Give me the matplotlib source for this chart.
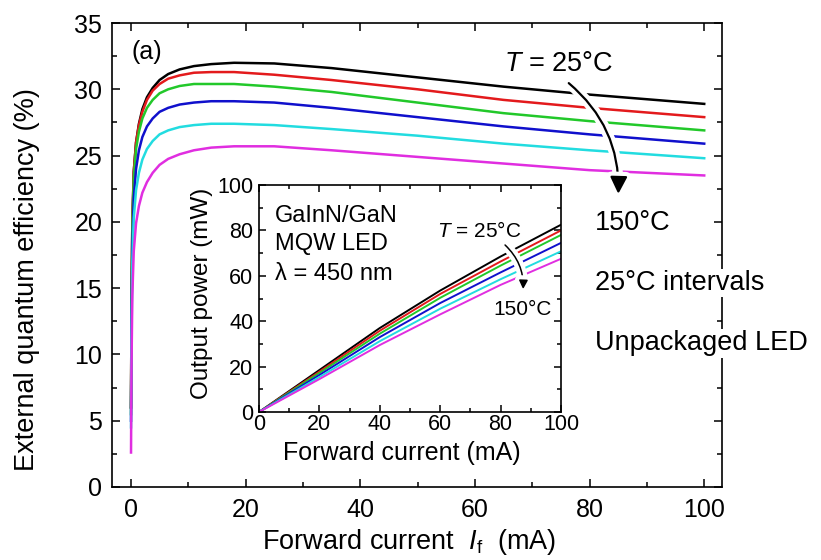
import matplotlib
matplotlib.use("Agg")
import matplotlib.pyplot as plt
from matplotlib.patches import FancyArrowPatch
import matplotlib.patheffects as pe

plt.rcParams["font.family"] = ["Liberation Sans", "DejaVu Sans"]
plt.rcParams["mathtext.fontset"] = "custom"
plt.rcParams["mathtext.rm"] = "Liberation Sans"
plt.rcParams["mathtext.it"] = "Liberation Sans:italic"

# --- data ---
temps = ["25", "50", "75", "100", "125", "150"]
colors = ["#000000", "#e31a1c", "#22c82a", "#1010cc", "#22dce0", "#e02ee0"]

current = [0.02, 0.1, 0.25, 0.5, 0.9, 1.4, 2.0, 2.8, 3.8, 5, 6.5, 8.5, 11, 14, 18,
           25, 35, 50, 65, 80, 100]
eqe_25 = [6, 13.5, 20, 23.8, 26.0, 27.4, 28.5, 29.4, 30.1, 30.7, 31.15, 31.5, 31.75,
          31.9, 32.0, 31.95, 31.6, 30.9, 30.2, 29.6, 28.9]
eqe_50 = [6, 13.5, 20, 23.8, 26.0, 27.3, 28.3, 29.2, 29.9, 30.4, 30.8, 31.05, 31.25,
          31.3, 31.3, 31.1, 30.7, 30.0, 29.2, 28.6, 27.9]
eqe_75 = [5.5, 13, 19.5, 23.3, 25.5, 26.8, 27.8, 28.6, 29.2, 29.7, 30.0, 30.25, 30.4,
          30.4, 30.4, 30.2, 29.8, 29.0, 28.2, 27.6, 26.9]
eqe_100 = [5, 12, 18, 21.8, 24.0, 25.4, 26.4, 27.2, 27.8, 28.3, 28.6, 28.85, 29.0,
           29.1, 29.1, 29.0, 28.6, 27.9, 27.2, 26.6, 25.9]
eqe_125 = [4.5, 11, 17, 20.3, 22.4, 23.7, 24.7, 25.5, 26.1, 26.6, 26.9, 27.15, 27.3,
           27.4, 27.4, 27.3, 27.0, 26.5, 25.9, 25.4, 24.8]
eqe_150 = [2.6, 9, 14.5, 17.8, 19.9, 21.2, 22.2, 23.0, 23.7, 24.3, 24.75, 25.1, 25.4,
           25.6, 25.7, 25.7, 25.4, 24.9, 24.4, 23.9, 23.5]

inset_current = [0, 20, 40, 60, 80, 100]
power_25 = [0, 18.5, 37.0, 53.5, 68.5, 82.5]
power_50 = [0, 17.8, 35.8, 52.0, 66.3, 80.0]
power_75 = [0, 17.2, 34.5, 50.3, 64.5, 78.0]
power_100 = [0, 16.3, 33.0, 48.0, 61.5, 74.5]
power_125 = [0, 15.4, 31.2, 45.5, 58.5, 70.8]
power_150 = [0, 14.5, 29.5, 43.0, 56.0, 67.5]

eqe = [eqe_25, eqe_50, eqe_75, eqe_100, eqe_125, eqe_150]
power = [power_25, power_50, power_75, power_100, power_125, power_150]


def style_axes(ax, size, major, minor):
    ax.tick_params(which="both", direction="in", top=True, right=True,
                   labelsize=size, width=1.1)
    ax.tick_params(which="major", length=major)
    ax.tick_params(which="minor", length=minor)
    for s in ax.spines.values():
        s.set_linewidth(1.2)


def curved_arrow(ax, start, end, rad, lw, ms):
    arr = FancyArrowPatch(start, end, connectionstyle=f"arc3,rad={rad}",
                          arrowstyle="-|>", mutation_scale=ms, lw=lw,
                          color="black", zorder=5,
                          path_effects=[pe.Stroke(linewidth=lw + 6, foreground="white"),
                                        pe.Normal()])
    ax.add_patch(arr)


fig = plt.figure(figsize=(8.21, 5.6), dpi=100)
ax = fig.add_axes([0.1364, 0.1304, 0.7430, 0.8285])

for vals, c in zip(eqe, colors):
    ax.plot(current, vals, color=c, lw=1.8)

ax.set_xlim(-3.3, 103.1)
ax.set_ylim(0, 35)
ax.set_xticks(range(0, 101, 20))
ax.set_xticks(range(0, 101, 10), minor=True)
ax.set_yticks(range(0, 36, 5))
ax.set_yticks([2.5 + 5 * i for i in range(7)], minor=True)
style_axes(ax, 18, 6, 3.5)
ax.tick_params(axis="x", pad=8)
ax.tick_params(axis="y", pad=7)
ax.set_ylabel("External quantum efficiency (%)", fontsize=19.5)
ax.yaxis.set_label_coords(-0.118, 0.446)
ax.set_xlabel(r"Forward current  $I_{\rm f}$  (mA)", fontsize=19.5)
ax.xaxis.set_label_coords(0.487, -0.086)

ax.text(0.1, 32.3, "(a)", fontsize=18, va="baseline")
curved_arrow(ax, (76.0, 30.6), (85.0, 21.9), -0.25, 1.6, 26)
ax.text(65.0, 31.4, r"$T$ = 25°C", fontsize=19.5, va="baseline", zorder=6)
box = dict(facecolor="white", edgecolor="none", pad=1)
ax.text(81.0, 19.4, "150°C", fontsize=19.5, va="baseline", bbox=box, zorder=6)
ax.text(81.0, 14.85, "25°C intervals", fontsize=19.5, va="baseline", bbox=box,
        zorder=6, clip_on=False)
ax.text(81.0, 10.3, "Unpackaged LED", fontsize=19.5, va="baseline", bbox=box,
        zorder=6, clip_on=False)

# inset: output power
ins = fig.add_axes([0.3155, 0.2643, 0.3678, 0.4053])
for vals, c in zip(power, colors):
    ins.plot(inset_current, vals, color=c, lw=1.4)
ins.set_xlim(0, 100)
ins.set_ylim(0, 100)
ins.set_xticks(range(0, 101, 20))
ins.set_xticks(range(0, 101, 10), minor=True)
ins.set_yticks(range(0, 101, 20))
ins.set_yticks(range(10, 100, 20), minor=True)
style_axes(ins, 15.5, 5, 3)
ins.tick_params(axis="x", pad=1.5)
ins.tick_params(axis="y", pad=4)
ins.set_xlabel("Forward current (mA)", fontsize=18)
ins.xaxis.set_label_coords(0.474, -0.128)
ins.set_ylabel("Output power (mW)", fontsize=17.5)
ins.yaxis.set_label_coords(-0.152, 0.524)

ins.text(5.3, 83.7, "GaInN/GaN", fontsize=17, va="baseline")
ins.text(5.3, 71.4, "MQW LED", fontsize=17, va="baseline")
ins.text(5.3, 58.1, "λ = 450 nm", fontsize=17, va="baseline")
ins.text(58.9, 77.1, r"$T$ = 25°C", fontsize=15, va="baseline", zorder=6)
ins.text(77.5, 42.7, "150°C", fontsize=15, va="baseline", zorder=6)
curved_arrow(ins, (80.8, 74.4), (87.4, 52.9), -0.25, 1.1, 13)

fig.savefig("out.png", dpi=100)
